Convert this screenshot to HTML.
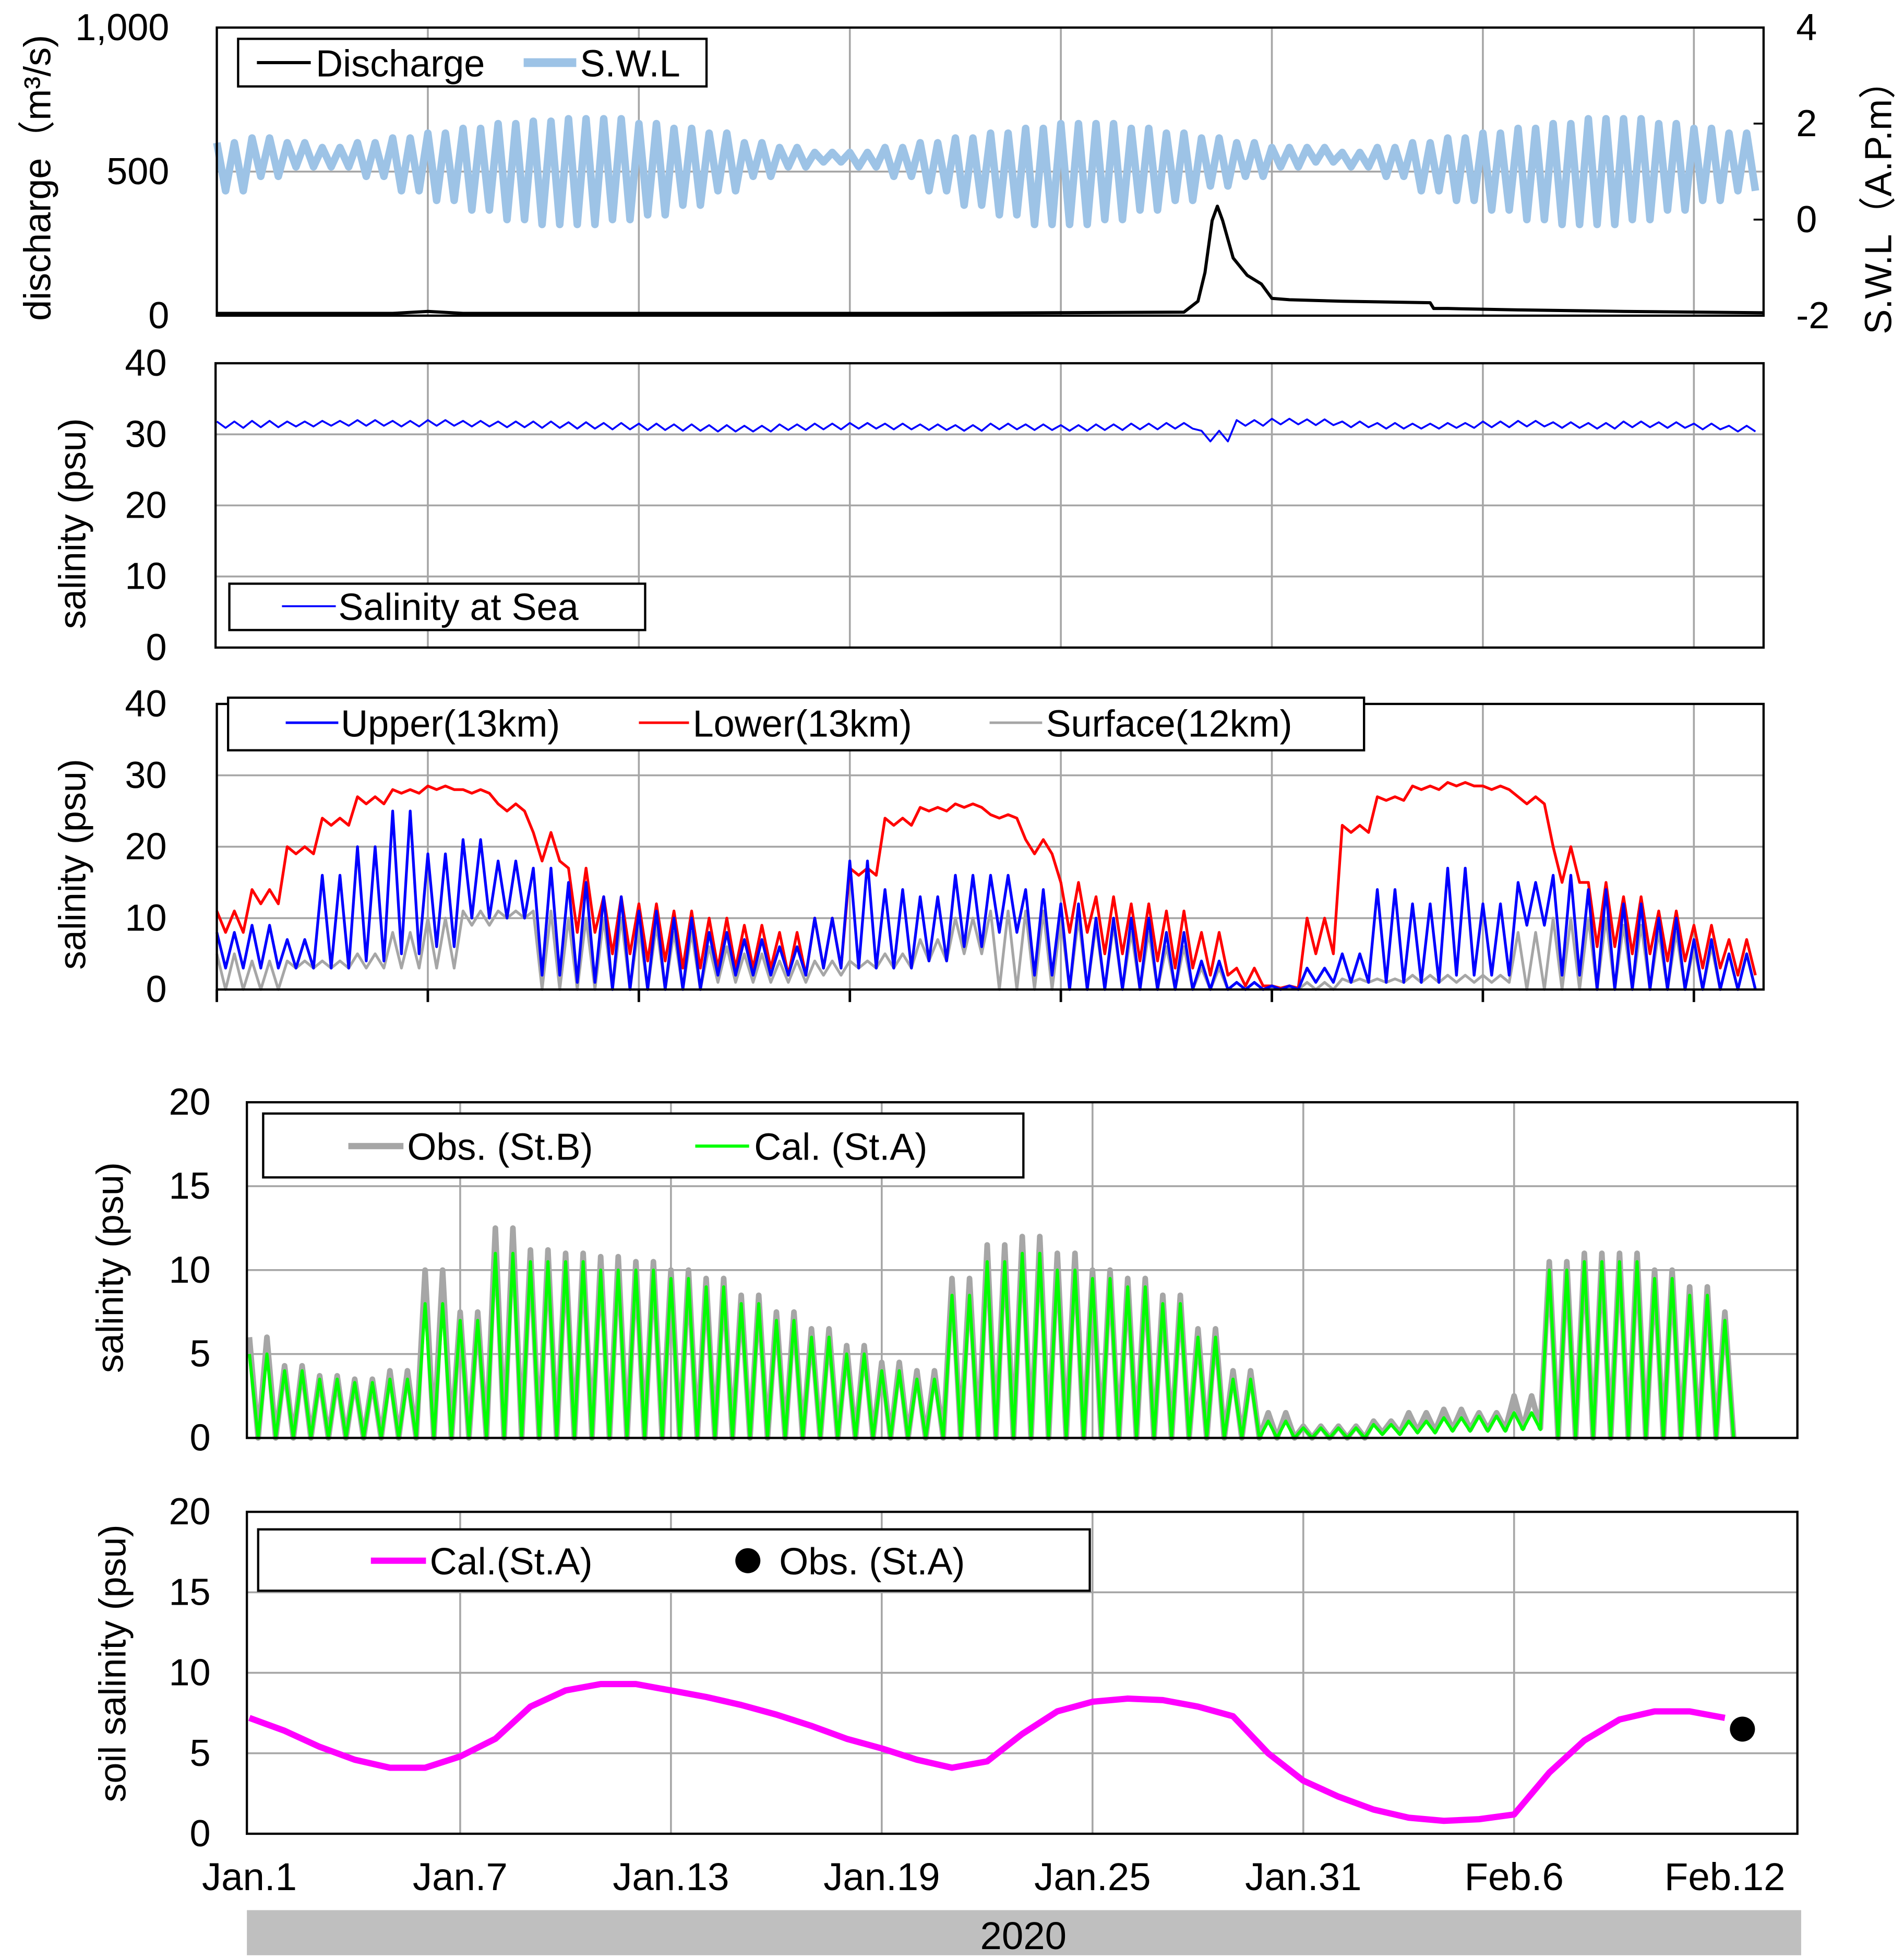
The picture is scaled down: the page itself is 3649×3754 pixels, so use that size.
<!DOCTYPE html>
<html><head><meta charset="utf-8"><style>
html,body{margin:0;padding:0;background:#fff}
svg{display:block}
text{font-family:"Liberation Sans","Noto Sans CJK JP",sans-serif;fill:#000}
</style></head><body>
<svg id="chart" xmlns="http://www.w3.org/2000/svg" width="3649" height="3754" viewBox="0 0 1520 1564"></svg>
<script>
// ---- data (per day, day 0 = Jan.1) ----
const xTickLabels = ["Jan.1","Jan.7","Jan.13","Jan.19","Jan.25","Jan.31","Feb.6","Feb.12"];
const swlHigh = [1.6,1.7,1.6,1.5,1.6,1.7,1.8,1.9,2.0,2.05,2.1,2.1,2.0,1.9,1.8,1.6,1.5,1.4,1.4,1.5,1.6,1.7,1.8,1.9,2.0,2.0,1.9,1.8,1.7,1.6,1.5,1.5,1.4,1.5,1.6,1.7,1.8,1.9,2.0,2.1,2.1,2.0,1.9,1.8];
const swlLow = [0.6,0.9,1.1,1.1,0.9,0.6,0.4,0.2,0.0,-0.1,-0.1,0.0,0.1,0.3,0.6,0.9,1.1,1.2,1.1,0.9,0.6,0.3,0.1,-0.1,-0.1,0.0,0.2,0.4,0.7,0.9,1.1,1.2,1.1,0.9,0.6,0.4,0.2,0.0,-0.1,-0.1,0.0,0.2,0.4,0.6];
const dischargeT = [0,5,6,7,10,20,27.5,27.9,28.1,28.3,28.45,28.6,28.9,29.3,29.7,30,30.5,32,34.5,34.6,35,37,40,44];
const dischargeV = [8,8,15,8,8,8,12,50,150,330,380,330,200,140,110,60,55,50,45,25,25,20,15,10];
const seaHigh = [31.8,31.9,31.8,31.9,32.0,31.9,32.0,31.9,31.8,31.8,31.7,31.6,31.5,31.4,31.3,31.2,31.4,31.5,31.6,31.5,31.4,31.3,31.5,31.4,31.3,31.4,31.5,31.6,30.5,32.0,32.2,32.1,31.8,31.6,31.5,31.6,31.8,31.9,31.7,31.6,31.8,31.7,31.5,31.2];
const seaLow = [30.9,31.0,31.1,31.2,31.2,31.1,31.2,31.1,31.0,30.9,30.8,30.7,30.6,30.5,30.4,30.4,30.6,30.7,30.8,30.7,30.6,30.5,30.7,30.6,30.5,30.6,30.7,30.8,29.0,31.2,31.4,31.3,31.0,30.8,30.8,30.9,31.0,31.1,30.9,30.8,31.0,30.9,30.7,30.4];
const lowerHigh = [11,14,20,24,27,28,28.5,28,26,22,17,13,12,11,10,9,8,10,17,24,25.5,26,24.5,21,15,13,12,11,8,3,0.5,10,23,27,28.5,29,28.5,27,20,15,13,11,9,7];
const lowerLow = [8,12,19,23,26,27.5,28,27.5,25,18,8,5,4,3,3,3,2,3,16,23,25,25.5,24,19,8,5,4,3,2,0.5,0.2,5,22,26.5,28,28.5,28,26,15,6,5,4,3,2];
const upperHigh = [8,9,7,16,20,25,19,21,18,17,15,13,11,10,8,7,6,10,18,14,13,16,16,14,12,10,10,8,4,1,0.5,3,5,14,12,17,12,15,16,14,12,10,7,5];
const upperLow = [3,3,3,3,4,5,6,10,10,2,1,0,0,0,2,2,2,3,3,3,4,6,8,2,0,0,0,0,0,0,0,1,1,1,1,2,2,9,2,0,0,0,0,0];
const surfHigh = [5,4,4,4,5,8,10,11,11,11,10,10,9,8,6,5,4,4,4,5,7,10,11,11,10,9,8,6,3,1,0.3,1,1.5,1.5,2,2,2,8,10,10,9,8,6,5];
const surfLow = [0,0,3,3,3,3,3,9,10,0,0,0,0,0,1,1,1,2,3,3,4,5,0,0,0,0,0,0,0,0,0,0,1,1,1,1,1,0,0,0,0,0,0,0];
const calHigh = [5,4,3.5,3.3,3.5,8,7,11,10.5,10.5,10,10,9.5,9,8,7,6,5,4,3.5,8.5,10.5,11,10,9.5,9,8,6,3.5,1,0.6,0.6,0.8,1,1.2,1.3,1.5,10,10.5,10.5,9.5,8.5,7,6];
const calLow = [0,0,0,0,0,0,0,0,0,0,0,0,0,0,0,0,0,0,0,0,0,0,0,0,0,0,0,0,0,0,0,0,0.2,0.3,0.4,0.4,0.5,0,0,0,0,0,0,0];
const obsHigh = [6,4.3,3.7,3.5,4,10,7.5,12.5,11.2,11,10.8,10.5,10,9.5,8.5,7.5,6.5,5.5,4.5,4,9.5,11.5,12,11,10,9.5,8.5,6.5,4,1.5,0.7,0.7,1,1.5,1.7,1.5,2.5,10.5,11,11,10,9,7.5,6.5];
const obsLow = [0,0,0,0,0,0,0,0,0,0,0,0,0,0,0,0,0,0,0,0,0,0,0,0,0,0,0,0,0,0,0,0,0.3,0.4,0.5,0.5,0.6,0,0,0,0,0,0,0];
const soilCal = [7.2,6.4,5.4,4.6,4.1,4.1,4.8,5.9,7.9,8.9,9.3,9.3,8.9,8.5,8.0,7.4,6.7,5.9,5.3,4.6,4.1,4.5,6.2,7.6,8.2,8.4,8.3,7.9,7.3,5.0,3.3,2.3,1.5,1.0,0.8,0.9,1.2,3.8,5.8,7.1,7.6,7.6,7.2];
const soilObsDay = [42.5];
const soilObsVal = [6.5];

const NS="http://www.w3.org/2000/svg";
const svg=document.getElementById('chart');
function el(tag,attrs,parent){const e=document.createElementNS(NS,tag);for(const k in attrs)e.setAttribute(k,attrs[k]);(parent||svg).appendChild(e);return e;}
function txt(s,attrs,parent){const t=el('text',attrs,parent);t.textContent=s;return t;}

function makePanel(name,x0,x1,y0,y1,vmin,vmax,dayX0,dayW){
  const g=el('g',{});
  
  
  return {g,x0,x1,y0,y1,
    sx:d=>dayX0+d*dayW,
    sy:v=>y1-(v-vmin)/(vmax-vmin)*(y1-y0)};
}
function grid(p,hvals,vdays){
  vdays.forEach(d=>{const x=p.sx(d);if(x>p.x0+1&&x<p.x1-1){const l=el('line',{x1:x,x2:x,y1:p.y0,y2:p.y1,stroke:'#a6a6a6','stroke-width':1.5},p.g);}});
  hvals.forEach(v=>{const y=p.sy(v);const l=el('line',{x1:p.x0,x2:p.x1,y1:y,y2:y,stroke:'#a6a6a6','stroke-width':1.5},p.g);});
}
function frame(p){const r=el('rect',{x:p.x0,y:p.y0,width:p.x1-p.x0,height:p.y1-p.y0,fill:'none',stroke:'#000','stroke-width':1.8},p.g);}
function tidal(hi,lo,endDay){
  const pts=[];const n=hi.length;
  for(let i=0;i<n;i++){
    for(let k=0;k<4;k++){const t=i+k*0.25;if(t>endDay)break;pts.push([t,k%2===0?hi[i]:lo[i]]);}
  }
  return pts;
}
function drawLine(p,pts,color,w,name){
  const d=pts.map((q,i)=>(i?'L':'M')+p.sx(q[0]).toFixed(1)+','+p.sy(q[1]).toFixed(1)).join('');
  const path=el('path',{d,fill:'none',stroke:color,'stroke-width':w,'stroke-linejoin':'round'},p.g);
  
  
  return path;
}
function yTicks(p,vals,labels,xr,anchor){
  vals.forEach((v,i)=>{const t=txt(labels[i],{x:xr,y:p.sy(v)+10,'font-size':30,'text-anchor':anchor||'end'},p.g);});
}
function yTitle(s,x,y,name){const t=txt(s,{x:x,y:y,'font-size':30,'text-anchor':'middle',transform:`rotate(-90 ${x} ${y})`});}
function legendBox(x,y,w,h,name){const r=el('rect',{x,y,width:w,height:h,fill:'#fff',stroke:'#000','stroke-width':1.8});}
function legendEntry(x1,x2,y,color,w,label,tx,name){
  const g=el('g',{});
  el('line',{x1,x2,y1:y,y2:y,stroke:color,'stroke-width':w},g);
  txt(label,{x:tx,y:y+11,'font-size':30},g);
}
const gridDays=[0,6,12,18,24,30,36,42];

// Panel 1
const p1=makePanel('discharge-panel',173,1408,22,252,0,1000,173,28.08);
grid(p1,[500],gridDays);
const swlAxis=v=>252-(v+2)/6*230;
{ const pts=tidal(swlHigh,swlLow,44);
  const d=pts.map((q,i)=>(i?'L':'M')+p1.sx(q[0]).toFixed(1)+','+swlAxis(q[1]).toFixed(1)).join('');
  const sw=el('path',{d,fill:'none',stroke:'#9dc3e6','stroke-width':6,'stroke-linejoin':'round'},p1.g);
  
  
}
{ const pts=dischargeT.map((t,i)=>[t,dischargeV[i]]);
  drawLine(p1,pts,'#000',2.5,'discharge-line'); }
frame(p1);
yTicks(p1,[1000,500,0],['1,000','500','0'],135);
[4,2,0,-2].forEach(v=>{const t=txt(String(v),{x:1434,y:swlAxis(v)+10,'font-size':30},p1.g);
 const tk=el('line',{x1:1408,x2:1400,y1:swlAxis(v),y2:swlAxis(v),stroke:'#000','stroke-width':1.5},p1.g);});
yTitle('discharge（m³/s)',40,142,'y-axis-title-discharge');
yTitle('S.W.L（A.P.m）',1510,158,'y-axis-title-swl');
legendBox(190,31,374,38,'legend-discharge');
legendEntry(205,248,50,'#000',2.5,'Discharge',252,'legend-entry-discharge');
legendEntry(418,460,50,'#9dc3e6',7,'S.W.L',463,'legend-entry-swl');

// Panel 2
const p2=makePanel('sea-salinity-panel',172,1408,290,517,0,40,173,28.08);
grid(p2,[10,20,30],gridDays);
drawLine(p2,tidal(seaHigh,seaLow,44),'#0000ff',1.5,'sea-salinity-line');
frame(p2);
yTicks(p2,[40,30,20,10,0],['40','30','20','10','0'],133);
yTitle('salinity (psu)',68,418,'y-axis-title-sea');
legendBox(183,466,332,37,'legend-sea');
legendEntry(225,268,484,'#0000ff',1.5,'Salinity at Sea',270,'legend-entry-sea');

// Panel 3
const p3=makePanel('river-salinity-panel',173,1408,562,790,0,40,173,28.08);
grid(p3,[10,20,30],gridDays);
drawLine(p3,tidal(surfHigh,surfLow,44),'#a6a6a6',2.2,'surface-12km-line');
drawLine(p3,tidal(lowerHigh,lowerLow,44),'#ff0000',2.2,'lower-13km-line');
drawLine(p3,tidal(upperHigh,upperLow,44),'#0000ff',2.2,'upper-13km-line');
frame(p3);
gridDays.forEach(d=>{const x=p3.sx(d);const tk=el('line',{x1:x,x2:x,y1:790,y2:800,stroke:'#000','stroke-width':2},p3.g);});
yTicks(p3,[40,30,20,10,0],['40','30','20','10','0'],133);
yTitle('salinity (psu)',68,690,'y-axis-title-river');
legendBox(182,557,907,42,'legend-river');
legendEntry(228,270,577,'#0000ff',2,'Upper(13km)',272,'legend-entry-upper');
legendEntry(510,550,577,'#ff0000',2,'Lower(13km)',553,'legend-entry-lower');
legendEntry(790,832,577,'#a6a6a6',2,'Surface(12km)',835,'legend-entry-surface');

// Panel 4
const p4=makePanel('station-salinity-panel',197,1435,880,1148,0,20,199,28.05);
grid(p4,[5,10,15],[6,12,18,24,30,36]);
drawLine(p4,tidal(obsHigh,obsLow,42.4),'#a6a6a6',4.5,'obs-stb-line');
drawLine(p4,tidal(calHigh,calLow,42.4),'#00ff00',2.5,'cal-sta-line');
frame(p4);
yTicks(p4,[20,15,10,5,0],['20','15','10','5','0'],168);
yTitle('salinity (psu)',98,1012,'y-axis-title-station');
legendBox(210,889,607,51,'legend-station');
legendEntry(278,322,915,'#a6a6a6',5,'Obs. (St.B)',325,'legend-entry-obs');
legendEntry(555,598,915,'#00ff00',2.5,'Cal. (St.A)',602,'legend-entry-cal');

// Panel 5
const p5=makePanel('soil-salinity-panel',197,1435,1207,1464,0,20,199,28.05);
grid(p5,[5,10,15],[6,12,18,24,30,36]);
drawLine(p5,soilCal.map((v,i)=>[i,v]),'#ff00ff',5,'soil-cal-line');
soilObsDay.forEach((d,i)=>{const c=el('circle',{cx:p5.sx(d),cy:p5.sy(soilObsVal[i]),r:10,fill:'#000'},p5.g);});
frame(p5);
yTicks(p5,[20,15,10,5,0],['20','15','10','5','0'],168);
yTitle('soil salinity (psu)',100,1328,'y-axis-title-soil');
legendBox(206,1221,664,49,'legend-soil');
legendEntry(296,340,1246,'#ff00ff',5,'Cal.(St.A)',343,'legend-entry-soil-cal');
{const c=el('circle',{cx:597,cy:1246,r:10,fill:'#000'});}
{const t=txt('Obs. (St.A)',{x:622,y:1257,'font-size':30});}

// x tick labels
xTickLabels.forEach((s,i)=>{const t=txt(s,{x:p5.sx(i*6),y:1509,'font-size':31,'text-anchor':'middle'});});
// year bar
{const r=el('rect',{x:197,y:1525,width:1241,height:36,fill:'#bfbfbf'});
 const t=txt('2020',{x:817,y:1556,'font-size':31,'text-anchor':'middle'});}
</script>
</body></html>
